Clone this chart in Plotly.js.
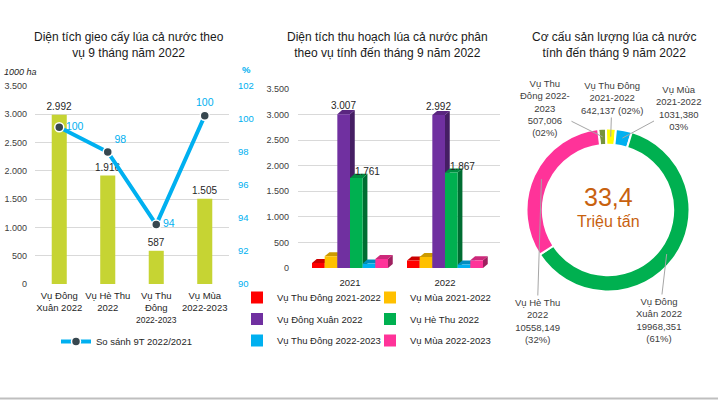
<!DOCTYPE html>
<html><head><meta charset="utf-8">
<script src="https://cdn.plot.ly/plotly-3.0.1.min.js"></script>
<style>html,body{margin:0;padding:0;background:#fff;} #chart{width:718px;height:400px;}</style>
</head><body><div id="chart"></div>
<script>
// ---------------- DATA ----------------
// Chart 1: sown area (1000 ha) and comparison (%)
const seasons = ['Vụ Đông<br>Xuân 2022', 'Vụ Hè Thu<br>2022', 'Vụ Thu<br>Đông<br><span style="font-size:8.5px">2022-2023</span>', 'Vụ Mùa<br>2022-2023'];
const sownArea = [2992, 1916, 587, 1505];
const compare9T = [99.5, 98.0, 93.6, 100.2];
const compareName = 'So sánh 9T 2022/2021';

// Chart 2: harvested area by season
const years = ['2021', '2022'];
const harvestNames = ['Vụ Thu Đông 2021-2022', 'Vụ Mùa 2021-2022', 'Vụ Đông Xuân 2022', 'Vụ Hè Thu 2022', 'Vụ Thu Đông 2022-2023', 'Vụ Mùa 2022-2023'];
const thuDong2122 = [98, 145];
const mua2122 = [229, 215];
const dongXuan2022 = [3007, 2992];
const heThu2022 = [1761, 1867];
const thuDong2223 = [86, 67];
const mua2223 = [176, 150];

// Chart 3: production structure (1000 tons)
const sliceNames = ['Vụ Thu<br>Đông 2022-<br>2023', 'Vụ Thu Đông<br>2021-2022', 'Vụ Mùa<br>2021-2022', 'Vụ Đông<br>Xuân 2022', 'Vụ Hè Thu<br>2022'];
const sliceValues = [507.006, 642.137, 1031.380, 19968.351, 10558.149];
const totalLabel = '33,4';
const totalUnit = 'Triệu tấn';

const titles = [
  'Diện tích gieo cấy lúa cả nước theo<br>vụ 9 tháng năm 2022',
  'Diện tích thu hoạch lúa cả nước phân<br>theo vụ tính đến tháng 9 năm 2022',
  'Cơ cấu sản lượng lúa cả nước<br>tính đến tháng 9 năm 2022'
];

// ---------------- STYLE / LAYOUT ----------------
const W = 718, H = 400;
const px = x => x / W, py = y => 1 - y / H;
const FONT = 'Liberation Sans, Arial, sans-serif';

function shade(hex, f) {
  const n = parseInt(hex.slice(1), 16);
  const r = Math.round(((n >> 16) & 255) * f), g = Math.round(((n >> 8) & 255) * f), b = Math.round((n & 255) * f);
  return `rgb(${r},${g},${b})`;
}

const traces = [];
const shapes = [];
const annotations = [];

// Chart 1
const xIdx = seasons.map((_, i) => i);
traces.push({
  type: 'bar', x: xIdx, y: sownArea, xaxis: 'x', yaxis: 'y', width: 0.31,
  marker: { color: '#c6d433' }, texttemplate: '%{y:,}', textposition: 'outside', constraintext: 'none',
  textfont: { size: 10, color: '#262626' }, cliponaxis: false, showlegend: false, hoverinfo: 'skip'
});
traces.push({
  type: 'scatter', mode: 'lines+markers+text', x: xIdx, y: compare9T, xaxis: 'x', yaxis: 'y2',
  name: compareName, line: { color: '#00b0f0', width: 4 },
  marker: { color: '#37474f', size: 9, line: { color: '#ffffff', width: 1.5 } },
  texttemplate: '%{y:.0f}', textposition: ['middle right', 'top right', 'middle right', 'top center'],
  textfont: { color: '#00b0f0', size: 10.5 }, cliponaxis: false, legend: 'legend', hoverinfo: 'skip'
});

// Chart 2 (pseudo-3D clustered columns)
const harvestSeries = [thuDong2122, mua2122, dongXuan2022, heThu2022, thuDong2223, mua2223];
const harvestColors = ['#ff0000', '#ffc000', '#7030a0', '#00b050', '#00b0f0', '#ff3399'];
const labelMode = ['none', 'none', 'top', 'side', 'none', 'none'];
const groupW = 0.8, bw = groupW / harvestSeries.length;
const yIdx = years.map((_, j) => j);
const dxU = 0.05, dyU = 80;
harvestSeries.forEach((vals, i) => {
  const off = -groupW / 2 + i * bw;
  traces.push({
    type: 'bar', x: yIdx, y: vals, xaxis: 'x2', yaxis: 'y3', width: bw, offset: off,
    name: harvestNames[i], marker: { color: harvestColors[i] },
    texttemplate: labelMode[i] === 'top' ? '%{y:,}' : '', textposition: labelMode[i] === 'top' ? 'outside' : 'none', constraintext: 'none',
    textfont: { size: 10, color: '#262626' }, cliponaxis: false,
    legend: i % 2 === 0 ? 'legend2' : 'legend3', legendgroup: 'h' + i, hoverinfo: 'skip'
  });
  if (labelMode[i] === 'side') {
    traces.push({
      type: 'scatter', mode: 'text', x: yIdx.map(j => j + off + bw + dxU), y: vals, xaxis: 'x2', yaxis: 'y3',
      texttemplate: '%{y:,}', textposition: 'top center', textfont: { size: 10, color: '#262626' },
      showlegend: false, cliponaxis: false, hoverinfo: 'skip'
    });
  }
  vals.forEach((v, j) => {
    const x0 = j + off, x1 = x0 + bw;
    shapes.push({ type: 'path', xref: 'x2', yref: 'y3', layer: 'between',
      path: `M${x1},0 L${x1 + dxU},${dyU} L${x1 + dxU},${v + dyU} L${x1},${v} Z`,
      fillcolor: shade(harvestColors[i], 0.62), line: { width: 0 } });
    shapes.push({ type: 'path', xref: 'x2', yref: 'y3', layer: 'between',
      path: `M${x0},${v} L${x1},${v} L${x1 + dxU},${v + dyU} L${x0 + dxU},${v + dyU} Z`,
      fillcolor: shade(harvestColors[i], 0.8), line: { width: 0 } });
  });
});

// Chart 3 donut
const pieColors = ['#77933c', '#ffff00', '#00b0f0', '#00b050', '#ff3399'];
const cx = 608, cy = 210, R = 81.5, hole = 0.8, rot = -7;
traces.push({
  type: 'pie', values: sliceValues, labels: sliceNames, sort: false, direction: 'clockwise', rotation: rot,
  hole: hole, marker: { colors: pieColors, line: { color: '#ffffff', width: 2 } },
  textinfo: 'none', hoverinfo: 'skip', showlegend: false,
  domain: { x: [px(cx - R), px(cx + R)], y: [py(cy + R), py(cy - R)] }
});
const labelPos = [[545, 108], [612, 98], [678, 108], [659, 320], [537, 321]];
const valueJoin = ['<br>', ' ', '<br>', '<br>', '<br>'];
const pctParen = [true, true, false, true, true];
const total = sliceValues.reduce((a, b) => a + b, 0);
const rMid = R * (1 + hole) / 2;
let cum = 0;
sliceValues.forEach((v, i) => {
  const frac = v / total;
  const mid = (rot + (cum + frac / 2) * 360) * Math.PI / 180;
  cum += frac;
  const tx = cx + rMid * Math.sin(mid), ty = cy - rMid * Math.cos(mid);
  const pct = String(Math.round(frac * 100)).padStart(2, '0') + '%';
  const txt = sliceNames[i] + '<br>' + v.toFixed(3).replace('.', ',') + valueJoin[i] + (pctParen[i] ? '(' + pct + ')' : pct);
  annotations.push({
    xref: 'paper', yref: 'paper', x: px(tx), y: py(ty), axref: 'pixel', ayref: 'pixel',
    ax: labelPos[i][0] - tx, ay: labelPos[i][1] - ty, showarrow: true, arrowhead: 0, arrowwidth: 1,
    arrowcolor: '#a6a6a6', text: txt, font: { size: 9.5, color: '#404040' }, align: 'center'
  });
});
function label(x, y, text, font) {
  annotations.push({ xref: 'paper', yref: 'paper', x: px(x), y: py(y), xanchor: 'center', yanchor: 'middle', text: text, showarrow: false, font: font, align: 'center' });
}
label(cx, 197, totalLabel, { size: 25, color: '#c8610f' });
label(cx, 221, totalUnit, { size: 16, color: '#c8610f' });

// Titles & axis units
const titleX = [129, 387, 614];
titles.forEach((t, i) => label(titleX[i], 45, t, { size: 12, color: '#1a1a1a' }));
label(20.5, 72, '<i>1000 ha</i>', { size: 9, color: '#262626' });
label(246, 69, '<b>%</b>', { size: 9.5, color: '#00b0f0' });

shapes.push({ type: 'line', xref: 'paper', yref: 'paper', x0: 0, x1: 1, y0: py(398.5), y1: py(398.5), line: { color: '#bfbfbf', width: 2 } });

const legendBase = { xanchor: 'left', yanchor: 'top', orientation: 'v', bgcolor: 'rgba(0,0,0,0)', font: { size: 9.5, color: '#262626' }, tracegroupgap: 2.5 };

const layout = {
  width: W, height: H, margin: { l: 0, r: 0, t: 0, b: 0 },
  paper_bgcolor: '#ffffff', plot_bgcolor: 'rgba(0,0,0,0)', separators: ',.',
  font: { family: FONT, color: '#262626', size: 10 },
  barmode: 'group', bargap: 0.2, hovermode: false, showlegend: true,
  xaxis: { domain: [px(35), px(229)], range: [-0.5, 3.5], tickvals: xIdx, ticktext: seasons, anchor: 'y', tickangle: 0,
    showgrid: false, zeroline: false, showline: false, ticks: '', tickfont: { size: 9.5, color: '#262626' }, ticklabelstandoff: 4 },
  yaxis: { domain: [py(284), py(86)], range: [0, 3500], dtick: 500, tickformat: ',', anchor: 'x',
    gridcolor: '#d9d9d9', zeroline: false, showline: false, tickfont: { size: 9, color: '#404040' }, ticklabelstandoff: 7 },
  yaxis2: { overlaying: 'y', side: 'right', anchor: 'x', range: [90, 102], dtick: 2, showgrid: false, zeroline: false,
    showline: false, tickfont: { size: 9.5, color: '#00b0f0' }, ticklabelstandoff: 8 },
  xaxis2: { domain: [px(298), px(500)], range: [-0.5474, 1.579], tickvals: yIdx, ticktext: years, anchor: 'y3', tickangle: 0,
    showgrid: false, zeroline: false, showline: false, ticks: '', tickfont: { size: 9.5, color: '#262626' }, ticklabelstandoff: 7 },
  yaxis3: { domain: [py(268), py(89)], range: [0, 3500], dtick: 500, tickformat: ',', anchor: 'x2',
    gridcolor: '#d9d9d9', zeroline: false, showline: false, tickfont: { size: 9, color: '#404040' }, ticklabelstandoff: 8 },
  legend: Object.assign({}, legendBase, { x: px(56), y: py(327) }),
  legend2: Object.assign({}, legendBase, { x: px(237), y: py(283) }),
  legend3: Object.assign({}, legendBase, { x: px(370), y: py(283) }),
  annotations: annotations, shapes: shapes
};

Plotly.newPlot('chart', traces, layout, { displayModeBar: false, staticPlot: true });
</script></body></html>
